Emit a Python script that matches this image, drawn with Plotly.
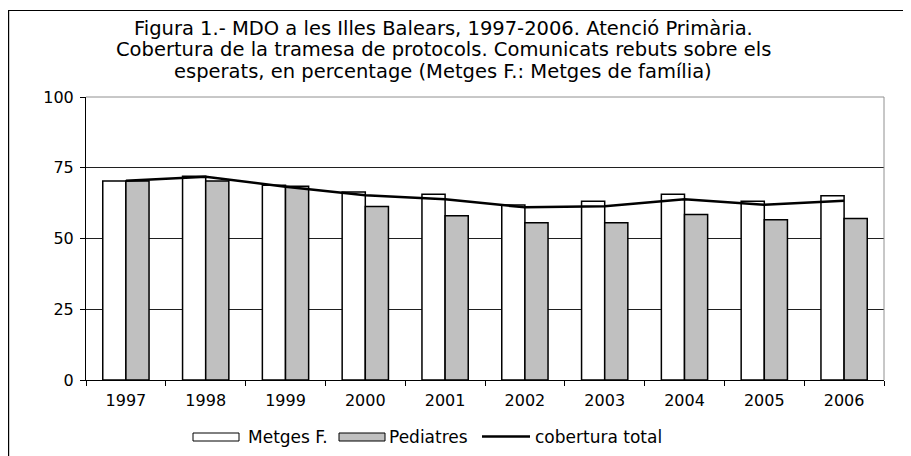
import plotly.graph_objects as go

years = ["1997", "1998", "1999", "2000", "2001", "2002", "2003", "2004", "2005", "2006"]
metges_f = [70.3, 72.0, 68.8, 66.4, 65.6, 61.8, 63.2, 65.6, 63.2, 65.1]
pediatres = [70.3, 70.3, 68.5, 61.3, 58.0, 55.6, 55.6, 58.5, 56.6, 57.1]
cobertura_total = [70.4, 71.8, 68.3, 65.3, 63.9, 61.0, 61.4, 63.9, 61.9, 63.3]
y_ticks = [0, 25, 50, 75, 100]

title_lines = [
    "Figura 1.- MDO a les Illes Balears, 1997-2006. Atenció Primària.",
    "Cobertura de la tramesa de protocols. Comunicats rebuts sobre els",
    "esperats, en percentage (Metges F.: Metges de família)",
]
legend_names = ["Metges F.", "Pediatres", "cobertura total"]

# page is offset by the browser's default 8px body margin
OFF = 8
W, H = 911 - OFF, 456 - OFF
L, R, T, B = 86 - OFF, 884 - OFF, 97 - OFF, 380 - OFF

def px(x):
    """page x pixel -> paper coordinate"""
    return (x - OFF - L) / (R - L)

def py(y):
    """page y pixel -> paper coordinate"""
    return (B - (y - OFF)) / (B - T)

FONT = "DejaVu Sans"

fig = go.Figure()
fig.add_trace(go.Bar(x=years, y=metges_f, name=legend_names[0],
                     marker=dict(color="white", line=dict(color="black", width=1.5))))
fig.add_trace(go.Bar(x=years, y=pediatres, name=legend_names[1],
                     marker=dict(color="#c0c0c0", line=dict(color="black", width=1.5))))
fig.add_trace(go.Scatter(x=years, y=cobertura_total, name=legend_names[2], mode="lines",
                         line=dict(color="black", width=2.5)))

shapes = []
annotations = []
# plot area border (gray, top & right)
shapes.append(dict(type="line", xref="paper", yref="paper", x0=0, x1=1, y0=1, y1=1,
                   line=dict(color="#909090", width=1), layer="above"))
shapes.append(dict(type="line", xref="paper", yref="paper", x0=1, x1=1, y0=0, y1=1,
                   line=dict(color="#909090", width=1), layer="above"))
# outer chart border (top & left visible)
shapes.append(dict(type="line", xref="paper", yref="paper", x0=px(8), x1=px(915), y0=py(10.5), y1=py(10.5),
                   line=dict(color="black", width=1.2)))
shapes.append(dict(type="line", xref="paper", yref="paper", x0=px(8.6), x1=px(8.6), y0=py(10), y1=py(460),
                   line=dict(color="black", width=1.2)))

# title
for i, t in enumerate(title_lines):
    annotations.append(dict(text=t, xref="paper", yref="paper", x=px(443), y=py(28.5 + i * 21.5),
                            xanchor="center", yanchor="middle", showarrow=False,
                            font=dict(family=FONT, size=19.5, color="black")))

# custom legend
ly = 437
shapes.append(dict(type="rect", xref="paper", yref="paper", x0=px(193), x1=px(239), y0=py(433), y1=py(441),
                   fillcolor="white", line=dict(color="black", width=1)))
shapes.append(dict(type="rect", xref="paper", yref="paper", x0=px(339), x1=px(385), y0=py(433), y1=py(441),
                   fillcolor="#c0c0c0", line=dict(color="black", width=1)))
shapes.append(dict(type="line", xref="paper", yref="paper", x0=px(482), x1=px(530), y0=py(ly - 0.5), y1=py(ly - 0.5),
                   line=dict(color="black", width=2.5)))
for name, x0 in zip(legend_names, [246, 387, 533]):
    annotations.append(dict(text=name, xref="paper", yref="paper", x=px(x0), y=py(ly),
                            xanchor="left", yanchor="middle", showarrow=False,
                            font=dict(family=FONT, size=17, color="black")))

fig.update_layout(
    width=W, height=H,
    margin=dict(l=L, r=W - R, t=T, b=H - B, pad=0),
    paper_bgcolor="white", plot_bgcolor="white",
    barmode="group", bargap=0.42, bargroupgap=0,
    showlegend=False,
    font=dict(family=FONT, size=16, color="black"),
    shapes=shapes, annotations=annotations,
)
fig.update_xaxes(type="category", tickson="boundaries", ticks="outside", ticklen=5,
                 tickcolor="black", showline=True, linecolor="black", linewidth=1,
                 showgrid=False, ticklabelstandoff=6,
                 tickfont=dict(family=FONT, size=16, color="black"))
fig.update_yaxes(range=[0, 100], tickvals=y_ticks, ticks="outside", ticklen=5,
                 tickcolor="black", showline=True, linecolor="black", linewidth=1,
                 showgrid=True, gridcolor="#202020", gridwidth=1, zeroline=False,
                 ticklabelstandoff=3,
                 tickfont=dict(family=FONT, size=16, color="black"))

fig.write_html("out.html")
